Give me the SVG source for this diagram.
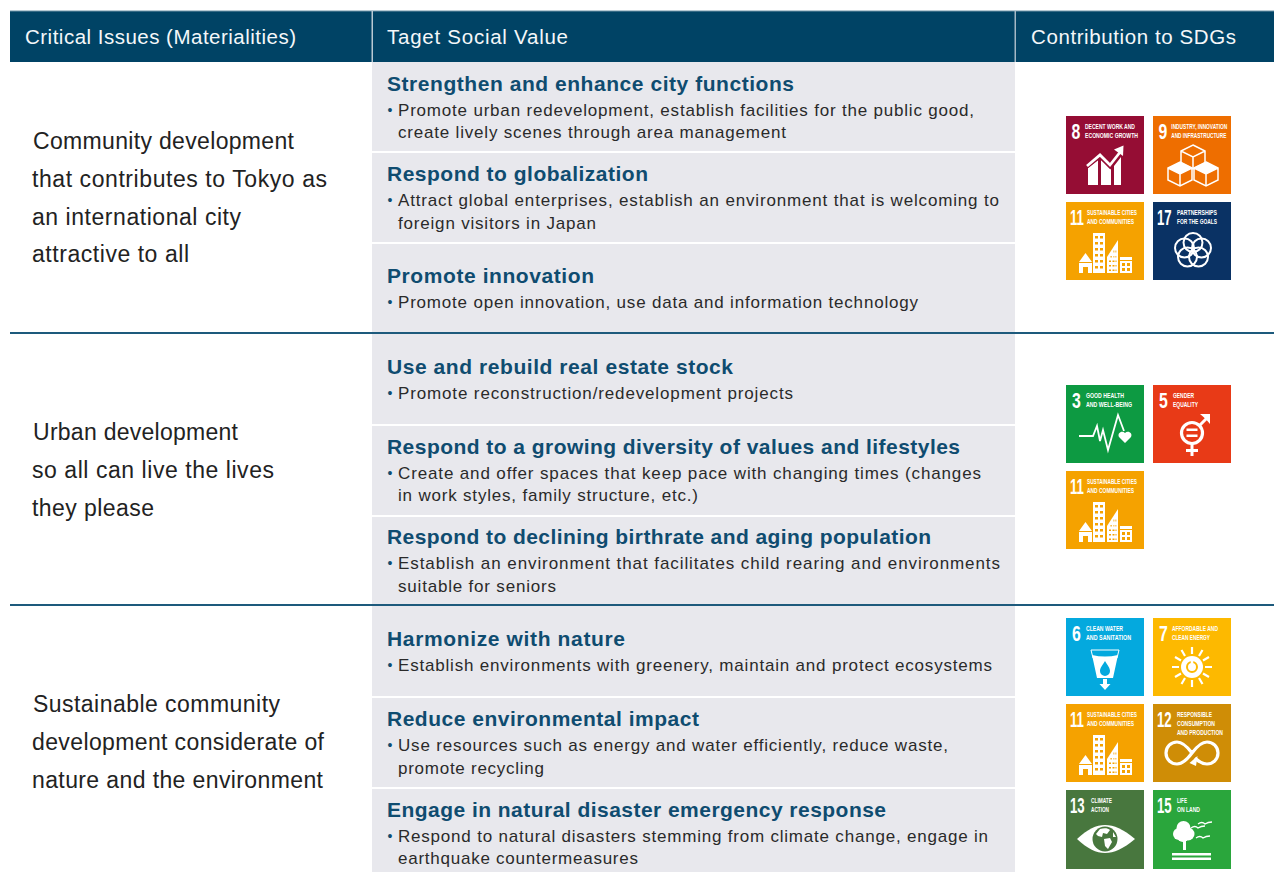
<svg xmlns="http://www.w3.org/2000/svg" xmlns:xlink="http://www.w3.org/1999/xlink" width="1274" height="872" viewBox="0 0 1274 872">
<style>
text{font-family:"Liberation Sans",Arial,sans-serif}
.h{font-size:20.5px;fill:#f4f7f9}
.l{font-size:23px;fill:#222}
.t{font-size:21px;font-weight:700;fill:#0f4c70}
.b{font-size:17px;fill:#2a2a2a}
.d{font-size:14px;fill:#0f4c70}
.n{font-size:22px;font-weight:700;fill:#fff}
.s{font-size:7.800px;fill:#fff;font-weight:700}
.w{fill:#fff}
.o{fill:none;stroke:#fff}
.sep{fill:#fff}
.rule{stroke:#1d5a7c;stroke-width:2}
</style>
<defs>
<g id="goal11">
<rect width="78" height="78" fill="#f5a200"/>
<text class="n" transform="translate(4 23) scale(.6 1)">11</text>
<text class="s" x="21" y="12.500" textLength="50" lengthAdjust="spacingAndGlyphs">SUSTAINABLE CITIES</text>
<text class="s" x="21" y="21.500" textLength="47" lengthAdjust="spacingAndGlyphs">AND COMMUNITIES</text>
<rect class="w" x="27" y="31" width="12" height="40"/>
<path fill="#f5a200" d="M29 34h3v2.500h-3zM34 34h3v2.500h-3zM29 40h3v2.500h-3zM34 40h3v2.500h-3zM29 46h3v2.500h-3zM34 46h3v2.500h-3zM29 52h3v2.500h-3zM34 52h3v2.500h-3zM29 58h3v2.500h-3zM34 58h3v2.500h-3zM29 64h3v2.500h-3zM34 64h3v2.500h-3z"/>
<path class="w" d="M13 60 19.500 51 26 60ZM13 61H26V71H22V65H17V71H13Z"/>
<path class="w" d="M41 71V55L52 38V71Z"/>
<path fill="#f5a200" d="M47.500 48.500h.8v2h-.8zM49.500 48.500h.8v2h-.8zM44.500 54h1.200v1.500h-1.200zM47.500 54h.8v1.500h-.8zM49.500 54h.8v1.500h-.8zM43 58.500h2v1.500h-2zM46.500 58.500h2v1.500h-2zM49.500 58.500h1v1.500h-1zM43 63h2v1.500h-2zM46.500 63h2v1.500h-2zM49.500 63h1v1.500h-1zM43 67.500h2v1.500h-2zM46.500 67.500h2v1.500h-2zM49.500 67.500h1v1.500h-1z"/>
<rect class="w" x="54" y="55" width="12" height="16"/>
<path fill="#f5a200" d="M54 58h12v1H54zM56 61h3v3h-3zM61 61h3v3h-3zM56 66h3v3h-3zM61 66h3v3h-3z"/>
</g>
<path id="cube" class="o" stroke-width="1.500" d="M0-9 12-3V9L0 15-12 9V-3ZM-12-3 0 3 12-3M0 3V15"/>
<path id="bird" class="o" stroke-width="1.300" d="M-7 1Q-3-2 0 1 3-1 7-1"/>
</defs>

<g id="header">
<rect x="10" y="11" width="1264" height="51" fill="#004365"/>
<rect x="10" y="10.500" width="1264" height="1" fill="#6f93a8"/>
<rect x="371.500" y="11" width="1.500" height="51" fill="#b9c9d3"/>
<rect x="1014.500" y="11" width="1.500" height="51" fill="#a4b8c5"/>
<text class="h" x="25" y="44" textLength="271">Critical Issues (Materialities)</text>
<text class="h" x="387" y="44" textLength="181">Taget Social Value</text>
<text class="h" x="1031" y="44" textLength="205">Contribution to SDGs</text>
</g>

<g id="panel">
<rect x="372" y="62" width="643" height="810" fill="#e8e8ed"/>
<rect class="sep" x="372" y="151" width="643" height="2"/>
<rect class="sep" x="372" y="242" width="643" height="2"/>
<rect class="sep" x="372" y="424" width="643" height="2"/>
<rect class="sep" x="372" y="515" width="643" height="2"/>
<rect class="sep" x="372" y="696" width="643" height="2"/>
<rect class="sep" x="372" y="787" width="643" height="2"/>
</g>

<g id="connectors">
<line class="rule" x1="10" y1="333" x2="1274" y2="333"/>
<line class="rule" x1="10" y1="605" x2="1274" y2="605"/>
</g>

<g id="issue-1">
<text class="l" x="33" y="149" textLength="261">Community development</text>
<text class="l" x="32" y="187" textLength="295">that contributes to Tokyo as</text>
<text class="l" x="32" y="225" textLength="209">an international city</text>
<text class="l" x="32" y="262" textLength="157">attractive to all</text>
</g>
<g id="issue-2">
<text class="l" x="33" y="440" textLength="205">Urban development</text>
<text class="l" x="32" y="478" textLength="242">so all can live the lives</text>
<text class="l" x="32" y="516" textLength="122">they please</text>
</g>
<g id="issue-3">
<text class="l" x="33" y="712" textLength="247">Sustainable community</text>
<text class="l" x="32" y="750" textLength="292">development considerate of</text>
<text class="l" x="32" y="788" textLength="291">nature and the environment</text>
</g>

<g id="value-1">
<text class="t" x="387" y="91" textLength="407">Strengthen and enhance city functions</text>
<text class="d" x="387.500" y="115">•</text>
<text class="b" x="398" y="116" textLength="576">Promote urban redevelopment, establish facilities for the public good,</text>
<text class="b" x="398" y="138" textLength="388">create lively scenes through area management</text>
</g>
<g id="value-2">
<text class="t" x="387" y="181" textLength="261">Respond to globalization</text>
<text class="d" x="387.500" y="205">•</text>
<text class="b" x="398" y="206" textLength="601">Attract global enterprises, establish an environment that is welcoming to</text>
<text class="b" x="398" y="229" textLength="198">foreign visitors in Japan</text>
</g>
<g id="value-3">
<text class="t" x="387" y="283" textLength="207">Promote innovation</text>
<text class="d" x="387.500" y="307">•</text>
<text class="b" x="398" y="308" textLength="520">Promote open innovation, use data and information technology</text>
</g>
<g id="value-4">
<text class="t" x="387" y="374" textLength="346">Use and rebuild real estate stock</text>
<text class="d" x="387.500" y="398">•</text>
<text class="b" x="398" y="399" textLength="395">Promote reconstruction/redevelopment projects</text>
</g>
<g id="value-5">
<text class="t" x="387" y="454" textLength="573">Respond to a growing diversity of values and lifestyles</text>
<text class="d" x="387.500" y="478">•</text>
<text class="b" x="398" y="479" textLength="583">Create and offer spaces that keep pace with changing times (changes</text>
<text class="b" x="398" y="501" textLength="300">in work styles, family structure, etc.)</text>
</g>
<g id="value-6">
<text class="t" x="387" y="544" textLength="544">Respond to declining birthrate and aging population</text>
<text class="d" x="387.500" y="568">•</text>
<text class="b" x="398" y="569" textLength="602">Establish an environment that facilitates child rearing and environments</text>
<text class="b" x="398" y="592" textLength="158">suitable for seniors</text>
</g>
<g id="value-7">
<text class="t" x="387" y="646" textLength="238">Harmonize with nature</text>
<text class="d" x="387.500" y="670">•</text>
<text class="b" x="398" y="671" textLength="594">Establish environments with greenery, maintain and protect ecosystems</text>
</g>
<g id="value-8">
<text class="t" x="387" y="726" textLength="312">Reduce environmental impact</text>
<text class="d" x="387.500" y="750">•</text>
<text class="b" x="398" y="751" textLength="550">Use resources such as energy and water efficiently, reduce waste,</text>
<text class="b" x="398" y="774" textLength="146">promote recycling</text>
</g>
<g id="value-9">
<text class="t" x="387" y="817" textLength="499">Engage in natural disaster emergency response</text>
<text class="d" x="387.500" y="841">•</text>
<text class="b" x="398" y="842" textLength="590">Respond to natural disasters stemming from climate change, engage in</text>
<text class="b" x="398" y="864" textLength="240">earthquake countermeasures</text>
</g>

<g id="sdg-8" transform="translate(1066 116)">
<rect width="78" height="78" fill="#950d34"/>
<text class="n" transform="translate(5.500 23) scale(.72 1)">8</text>
<text class="s" x="19" y="12.500" textLength="50" lengthAdjust="spacingAndGlyphs">DECENT WORK AND</text>
<text class="s" x="19" y="21.500" textLength="53" lengthAdjust="spacingAndGlyphs">ECONOMIC GROWTH</text>
<path class="w" d="M22 52 32 44V69H22ZM35 44 45 52V69H35ZM48 50 55 41V69H48Z"/>
<path class="o" stroke-width="6" style="stroke:#950d34" d="M20 50 34 39 44 49 56 33"/>
<path class="o" stroke-width="2.800" d="M21 50 34 39 44 49 55 35"/>
<path class="w" d="M48 33.500 57.500 29.500 57 40Z"/>
</g>
<g id="sdg-9" transform="translate(1153 116)">
<rect width="78" height="78" fill="#ee6e00"/>
<text class="n" transform="translate(5.500 23) scale(.72 1)">9</text>
<text class="s" x="18.300" y="12.500" textLength="56" lengthAdjust="spacingAndGlyphs">INDUSTRY, INNOVATION</text>
<text class="s" x="18.300" y="21.500" textLength="55" lengthAdjust="spacingAndGlyphs">AND INFRASTRUCTURE</text>
<use xlink:href="#cube" href="#cube" x="40" y="38"/>
<use xlink:href="#cube" href="#cube" x="27" y="55"/>
<use xlink:href="#cube" href="#cube" x="53" y="55"/>
<path class="w" d="M27 46 39 52 27 58 15 52ZM53 46 65 52 53 58 41 52Z"/>
</g>
<use id="sdg-11-a" xlink:href="#goal11" href="#goal11" x="1066" y="202"/>
<g id="sdg-17" transform="translate(1153 202)">
<rect width="78" height="78" fill="#0a3264"/>
<text class="n" transform="translate(4 23) scale(.6 1)">17</text>
<text class="s" x="24" y="12.500" textLength="40" lengthAdjust="spacingAndGlyphs">PARTNERSHIPS</text>
<text class="s" x="24" y="21.500" textLength="40" lengthAdjust="spacingAndGlyphs">FOR THE GOALS</text>
<g class="o" stroke-width="2">
<circle cx="40" cy="40.500" r="9.500"/><circle cx="48.500" cy="46" r="9.500"/><circle cx="45.500" cy="55" r="9.500"/><circle cx="34.500" cy="55" r="9.500"/><circle cx="31.500" cy="46" r="9.500"/>
</g>
</g>

<g id="sdg-3" transform="translate(1066 385)">
<rect width="78" height="78" fill="#0d9a42"/>
<text class="n" transform="translate(6 23) scale(.72 1)">3</text>
<text class="s" x="20" y="12.500" textLength="38" lengthAdjust="spacingAndGlyphs">GOOD HEALTH</text>
<text class="s" x="20" y="21.500" textLength="46" lengthAdjust="spacingAndGlyphs">AND WELL-BEING</text>
<path class="o" stroke-width="1.800" d="M13 51H27L31 41 34 56 37 45 42 65 52 30 58 46"/>
<path class="w" d="M59 58 53 52C51 48 56 45 59 48 62 45 67 48 65 52Z"/>
</g>
<g id="sdg-5" transform="translate(1153 385)">
<rect width="78" height="78" fill="#e83a17"/>
<text class="n" transform="translate(6 23) scale(.72 1)">5</text>
<text class="s" x="20" y="12.500" textLength="21" lengthAdjust="spacingAndGlyphs">GENDER</text>
<text class="s" x="20" y="21.500" textLength="25" lengthAdjust="spacingAndGlyphs">EQUALITY</text>
<circle class="o" stroke-width="3.200" cx="39" cy="48" r="10.500"/>
<path class="w" d="M33.500 43.500h11v2.500h-11zM33.500 49.500h11v2.500h-11zM37.500 59h3v12h-3zM33 64h12v3H33z"/>
<path class="o" stroke-width="3" d="M46 41 55 32"/>
<path class="w" d="M47 29H57V39L54 35.500 50.500 32Z"/>
</g>
<use id="sdg-11-b" xlink:href="#goal11" href="#goal11" x="1066" y="471"/>

<g id="sdg-6" transform="translate(1066 618)">
<rect width="78" height="78" fill="#04a9de"/>
<text class="n" transform="translate(6 23) scale(.72 1)">6</text>
<text class="s" x="20" y="12.500" textLength="37" lengthAdjust="spacingAndGlyphs">CLEAN WATER</text>
<text class="s" x="20" y="21.500" textLength="45" lengthAdjust="spacingAndGlyphs">AND SANITATION</text>
<path class="o" stroke-width="1" d="M25 32H53L51 40H27Z"/>
<path class="w" d="M26 37Q39 40 52 37L47 60H31Z"/>
<path fill="#04a9de" d="M39 43C36 48 34 50 34 53A5 5 0 0 0 44 53C44 50 42 48 39 43Z"/>
<path class="w" d="M37 61H41V66H44.500L39 72 33.500 66H37Z"/>
</g>
<g id="sdg-7" transform="translate(1153 618)">
<rect width="78" height="78" fill="#fdb900"/>
<text class="n" transform="translate(6 23) scale(.72 1)">7</text>
<text class="s" x="19" y="12.500" textLength="46" lengthAdjust="spacingAndGlyphs">AFFORDABLE AND</text>
<text class="s" x="19" y="21.500" textLength="38" lengthAdjust="spacingAndGlyphs">CLEAN ENERGY</text>
<circle class="w" cx="39" cy="49" r="11"/>
<circle cx="39" cy="49" r="5" fill="none" stroke="#fdb900" stroke-width="2"/>
<path stroke="#fff" stroke-width="2.500" d="M39 42.500V49" fill="none"/>
<path stroke="#fff" stroke-width="2.200" fill="none" d="M39 29V36M39 62V69M19 49H26M52 49H59M28.500 32 32 38M46 60 49.500 66M49.500 32 46 38M32 60 28.500 66M22 39 28 42.500M50 55.500 56 59M56 39 50 42.500M28 55.500 22 59"/>
</g>
<use id="sdg-11-c" xlink:href="#goal11" href="#goal11" x="1066" y="704"/>
<g id="sdg-12" transform="translate(1153 704)">
<rect width="78" height="78" fill="#cf8d06"/>
<text class="n" transform="translate(4 23) scale(.6 1)">12</text>
<text class="s" x="24" y="12.500" textLength="35" lengthAdjust="spacingAndGlyphs">RESPONSIBLE</text>
<text class="s" x="24" y="21.500" textLength="38" lengthAdjust="spacingAndGlyphs">CONSUMPTION</text>
<text class="s" x="24" y="30.500" textLength="46" lengthAdjust="spacingAndGlyphs">AND PRODUCTION</text>
<path class="o" stroke-width="3.200" d="M39 49C33 41 28 38 24 38A11 11 0 0 0 24 60C28 60 33 57 39 49S50 38 54 38A11 11 0 0 1 54 60C50 60 46 58 42 54"/>
<path class="w" d="M36.500 59 44.500 52 43 62Z"/>
</g>
<g id="sdg-13" transform="translate(1066 790)">
<rect width="78" height="79" fill="#48773e"/>
<text class="n" transform="translate(4 23) scale(.6 1)">13</text>
<text class="s" x="25" y="12.500" textLength="21" lengthAdjust="spacingAndGlyphs">CLIMATE</text>
<text class="s" x="25" y="21.500" textLength="18" lengthAdjust="spacingAndGlyphs">ACTION</text>
<path class="w" d="M11 49C22 39 30 35 39 35S57 39 69 49C57 59 48 63 39 63S22 59 11 49Z"/>
<circle cx="39" cy="49" r="12.500" fill="#48773e"/>
<path class="w" d="M34 39C38 38 42 38 44 40L41 44 37 43 36 47 32 46 30 44ZM38 49 44 48 46 52 42 59 39 56ZM47 42 50 47 47 47Z"/>
</g>
<g id="sdg-15" transform="translate(1153 790)">
<rect width="78" height="79" fill="#2aa63c"/>
<text class="n" transform="translate(4 23) scale(.6 1)">15</text>
<text class="s" x="24" y="12.500" textLength="10" lengthAdjust="spacingAndGlyphs">LIFE</text>
<text class="s" x="24" y="21.500" textLength="23" lengthAdjust="spacingAndGlyphs">ON LAND</text>
<circle class="w" cx="30.500" cy="38" r="7"/><circle class="w" cx="26" cy="44" r="6"/><circle class="w" cx="35" cy="44" r="6.500"/><circle class="w" cx="30" cy="46" r="6"/>
<rect class="w" x="30" y="50" width="3" height="10"/>
<rect class="w" x="19" y="63" width="39" height="2.500"/>
<rect class="w" x="19" y="67.500" width="39" height="2.500"/>
<use xlink:href="#bird" href="#bird" x="45" y="37"/>
<use xlink:href="#bird" href="#bird" x="50" y="47"/>
<use xlink:href="#bird" href="#bird" x="52" y="33"/>
</g>
</svg>
